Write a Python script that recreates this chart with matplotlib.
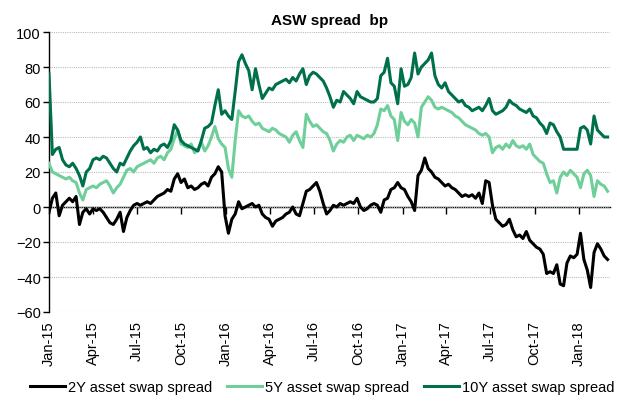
import matplotlib
matplotlib.use("Agg")
import matplotlib.pyplot as plt
import matplotlib.dates as mdates
import pandas as pd

plt.rcParams["font.family"] = ["Liberation Sans", "DejaVu Sans"]

# weekly observations from 1 Jan 2015
dates = pd.date_range("2015-01-01", periods=166, freq="7D")

asw_2y = [
    -3, 5, 8, -5, 1, 3, 5, 3, 6, -10,
    -3, -1, -4, -1, -2, -1, -3, -6, -9, -10,
    -7, -3, -14, -6, -2, 1, 2, 1, 2, 3,
    2, 4, 6, 7, 8, 10, 9, 16, 19, 14,
    16, 11, 12, 10, 11, 13, 14, 12, 17, 19,
    23, 20, -5, -15, -7, -4, 3, -1, 0, 1,
    2, 0, 1, -4, -6, -7, -11, -8, -7, -6,
    -4, -3, 0, -4, -5, 2, 9, 10, 12, 14,
    9, 2, -4, -2, 1, 0, 2, 1, 2, 3,
    2, 5, 0, -2, -1, 1, 2, 1, -3, 4,
    5, 10, 11, 14, 11, 10, 6, 3, -2, 18,
    21, 28, 22, 20, 17, 16, 14, 12, 13, 11,
    10, 8, 6, 7, 6, 7, 5, 8, 2, 15,
    14, 1, -7, -9, -11, -10, -7, -13, -17, -16,
    -18, -14, -19, -21, -23, -24, -27, -38, -37, -38,
    -33, -44, -45, -32, -28, -29, -27, -15, -30, -36,
    -46, -26, -21, -24, -28, -30,
]

asw_5y = [
    25, 20, 19, 18, 17, 16, 17, 15, 14, 8,
    4, 10, 11, 12, 11, 13, 14, 15, 12, 8,
    11, 13, 17, 21, 22, 20, 23, 24, 25, 26,
    27, 25, 28, 29, 27, 31, 33, 39, 44, 36,
    35, 34, 36, 31, 33, 37, 32, 35, 40, 46,
    39, 36, 34, 22, 17, 38, 55, 52, 51, 52,
    49, 47, 48, 45, 44, 43, 45, 44, 42, 41,
    40, 37, 41, 43, 38, 34, 53, 49, 46, 47,
    45, 43, 42, 38, 32, 36, 38, 37, 40, 41,
    38, 41, 40, 39, 41, 40, 42, 47, 56, 55,
    58, 52, 50, 38, 54, 49, 47, 50, 48, 40,
    57, 60, 63, 61, 57, 56, 57, 56, 55, 54,
    52, 51, 49, 47, 46, 45, 44, 42, 41, 42,
    40, 31, 34, 35, 33, 36, 34, 38, 35, 34,
    35, 33, 36, 30, 28, 26, 25, 19, 14, 15,
    8, 17, 20, 18, 21, 19, 17, 11, 19, 21,
    18, 6, 15, 13, 12, 9,
]

asw_10y = [
    76, 30, 33, 34, 27, 24, 23, 25, 22, 18,
    12, 20, 22, 27, 28, 27, 29, 28, 25, 22,
    20, 25, 24, 28, 32, 35, 37, 40, 33, 34,
    31, 33, 32, 35, 36, 34, 38, 47, 44, 38,
    36, 35, 34, 33, 32, 38, 45, 46, 48, 58,
    67, 53, 55, 52, 50, 66, 83, 87, 82, 78,
    67, 79, 70, 62, 65, 68, 67, 70, 71, 72,
    73, 71, 74, 72, 76, 79, 70, 75, 77, 76,
    74, 72, 68, 63, 57, 61, 60, 66, 64, 62,
    59, 66, 63, 62, 61, 60, 60, 62, 75, 77,
    85, 71, 69, 59, 79, 69, 70, 74, 88, 76,
    80, 82, 84, 88, 75, 70, 68, 71, 66, 64,
    62, 60, 61, 58, 57, 55, 56, 57, 55, 58,
    62, 55, 53, 54, 55, 57, 61, 59, 58, 56,
    55, 54, 56, 52, 51, 48, 46, 42, 48, 47,
    43, 40, 33, 33, 33, 33, 33, 45, 46, 44,
    36, 52, 44, 42, 40, 40,
]

series_names = ["2Y asset swap spread", "5Y asset swap spread", "10Y asset swap spread"]
series_colors = ["#000000", "#6FCF9B", "#00704A"]
y_ticks = [-60, -40, -20, 0, 20, 40, 60, 80, 100]
x_ticks = pd.date_range("2015-01-01", "2018-01-01", freq="QS")

fig = plt.figure(figsize=(6.17, 4.06), dpi=100)
ax = fig.add_axes([49 / 617, 1 - 313 / 406, 561 / 617, 280 / 406])

for vals, name, col in zip([asw_2y, asw_5y, asw_10y], series_names, series_colors):
    ax.plot(dates, vals, color=col, lw=2.2, label=name, zorder=3)

ax.set_ylim(-60, 100)
ax.set_xlim(pd.Timestamp("2015-01-01"), pd.Timestamp("2018-03-06"))
ax.set_yticks(y_ticks)
ax.yaxis.grid(True, color="#BDBDBD", linestyle=(0, (1, 1)), lw=0.8)
ax.set_axisbelow(True)

for s in ["top", "right", "bottom"]:
    ax.spines[s].set_visible(False)
ax.spines["left"].set_linewidth(1.0)

# date labels along the bottom, no tick marks
ax.set_xticks(x_ticks)
ax.xaxis.set_major_formatter(mdates.DateFormatter("%b-%y"))
ax.tick_params(axis="x", length=0, pad=6, labelsize=10.5, rotation=90)
ax.tick_params(axis="y", length=4, width=1, pad=2, labelsize=10.5)

# category axis crossing at zero with the tick marks
zero_ax = ax.secondary_xaxis(60 / 160)
zero_ax.set_xticks(mdates.date2num(x_ticks))
zero_ax.tick_params(axis="x", direction="out", length=5, width=1, labelbottom=False)
zero_ax.spines["bottom"].set_linewidth(1.0)

ax.set_title("ASW spread  bp", fontsize=11, fontweight="bold", pad=6)

fig.legend(loc="lower center", bbox_to_anchor=(0.522, -0.005), ncol=3, frameon=False,
           fontsize=10.5, handlelength=2.4, handletextpad=0.2, columnspacing=1.0)

fig.savefig("out.png", dpi=100)
